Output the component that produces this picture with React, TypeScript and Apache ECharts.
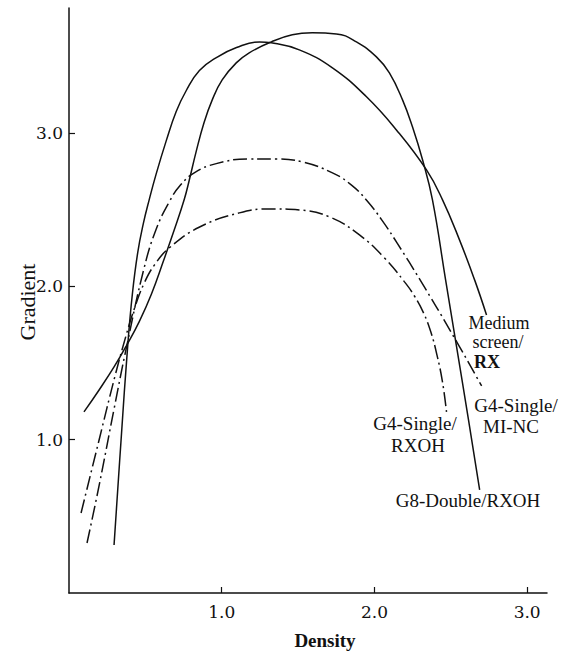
import React, { useEffect, useRef } from "react";
import * as echarts from "echarts";

const xTicks = [1, 2, 3];
const yTicks = [1, 2, 3];

// Solid curve ending near the "Medium screen/RX" label
const mediumScreenRX = [
  [0.295, 0.313], [0.341, 0.998], [0.385, 1.62], [0.415, 1.95], [0.45, 2.22],
  [0.487, 2.41], [0.525, 2.564], [0.57, 2.73], [0.637, 2.95], [0.702, 3.14],
  [0.768, 3.277], [0.854, 3.407], [0.965, 3.492], [1.097, 3.557], [1.248, 3.594],
  [1.325, 3.588], [1.508, 3.542], [1.725, 3.425], [1.948, 3.236], [2.144, 3.02],
  [2.341, 2.759], [2.446, 2.564], [2.557, 2.303], [2.656, 2.042], [2.734, 1.813],
];

// Solid curve ending near the "G8-Double/RXOH" label
const g8DoubleRXOH = [
  [0.098, 1.181], [0.197, 1.324], [0.295, 1.474], [0.38, 1.62], [0.46, 1.77],
  [0.54, 1.95], [0.62, 2.17], [0.69, 2.37], [0.754, 2.564], [0.787, 2.69],
  [0.833, 2.88], [0.885, 3.07], [0.938, 3.216], [1.003, 3.346], [1.095, 3.457],
  [1.18, 3.523], [1.325, 3.594], [1.462, 3.64], [1.593, 3.653], [1.751, 3.646],
  [1.882, 3.594], [2.013, 3.496], [2.098, 3.392], [2.184, 3.216], [2.249, 3.04],
  [2.315, 2.825], [2.38, 2.564], [2.466, 2.042], [2.538, 1.605], [2.616, 1.129],
  [2.689, 0.672],
];

// Dash-dot curve ending near "G4-Single/MI-NC"
const g4SingleMINC = [
  [0.118, 0.326], [0.197, 0.7], [0.295, 1.2], [0.38, 1.62], [0.492, 2.12],
  [0.57, 2.37], [0.656, 2.55], [0.73, 2.66], [0.82, 2.74], [0.964, 2.8],
  [1.18, 2.831], [1.357, 2.831], [1.528, 2.811], [1.725, 2.74], [1.85, 2.66],
  [1.95, 2.56], [2.05, 2.43], [2.15, 2.28], [2.3, 2.04], [2.5, 1.705],
  [2.702, 1.35],
];

// Dash-dot curve ending near "G4-Single/RXOH"
const g4SingleRXOH = [
  [0.079, 0.522], [0.197, 0.998], [0.3, 1.41], [0.374, 1.68], [0.43, 1.86],
  [0.492, 2.02], [0.56, 2.14], [0.656, 2.25], [0.852, 2.385], [1.115, 2.479],
  [1.311, 2.505], [1.508, 2.498], [1.705, 2.453], [1.902, 2.335], [2.066, 2.185],
  [2.197, 2.029], [2.26, 1.94], [2.32, 1.83], [2.37, 1.7], [2.41, 1.55],
  [2.445, 1.38], [2.472, 1.181],
];

const INK = "#111";
const SERIF = "'Liberation Serif', 'Times New Roman', serif";
const DIGITS = "'DejaVu Serif', serif";

function label(text: string, x: number, y: number, size = 20, bold = false) {
  return {
    type: "text",
    x,
    y,
    silent: true,
    style: {
      text,
      fill: INK,
      font: `${bold ? "bold " : ""}${size}px ${SERIF}`,
      textAlign: "center",
      textVerticalAlign: "middle",
      align: "center",
      verticalAlign: "middle",
    },
  };
}

export default function App() {
  const ref = useRef<HTMLDivElement>(null);

  useEffect(() => {
    if (!ref.current) return;
    const chart = echarts.init(ref.current, null, { renderer: "svg" });
    const solid = (name: string, data: number[][]) => ({
      name,
      type: "line",
      data,
      showSymbol: false,
      smooth: 0.45,
      silent: true,
      lineStyle: { color: INK, width: 1.5, type: "solid" },
    });
    const dashDot = (name: string, data: number[][]) => ({
      name,
      type: "line",
      data,
      showSymbol: false,
      smooth: 0.45,
      silent: true,
      lineStyle: { color: INK, width: 1.5, type: [14, 4, 2, 4] },
    });

    chart.setOption({
      animation: false,
      backgroundColor: "#ffffff",
      grid: { left: 69, top: 8, width: 478, height: 585 },
      xAxis: {
        type: "value",
        min: 0,
        max: 3.13,
        axisLine: { show: true, lineStyle: { color: INK, width: 1.5 } },
        axisTick: { show: true, inside: true, length: 6, customValues: xTicks, lineStyle: { color: INK, width: 1.2 } },
        axisLabel: {
          customValues: xTicks,
          formatter: (v: number) => v.toFixed(1),
          margin: 10,
          color: INK,
          fontFamily: DIGITS,
          fontSize: 17,
        },
        splitLine: { show: false },
      },
      yAxis: {
        type: "value",
        min: 0,
        max: 3.815,
        axisLine: { show: true, lineStyle: { color: INK, width: 1.5 } },
        axisTick: { show: true, inside: true, length: 6, customValues: yTicks, lineStyle: { color: INK, width: 1.2 } },
        axisLabel: {
          customValues: yTicks,
          formatter: (v: number) => v.toFixed(1),
          margin: 6,
          color: INK,
          fontFamily: DIGITS,
          fontSize: 17,
        },
        splitLine: { show: false },
      },
      series: [
        solid("Medium screen/RX", mediumScreenRX),
        solid("G8-Double/RXOH", g8DoubleRXOH),
        dashDot("G4-Single/MI-NC", g4SingleMINC),
        dashDot("G4-Single/RXOH", g4SingleRXOH),
      ],
      graphic: [
        label("Medium", 499, 323, 18),
        label("screen/", 498, 342, 18),
        label("RX", 487, 362, 18, true),
        label("G4-Single/", 516, 405, 19),
        label("MI-NC", 511, 426, 19),
        label("G4-Single/", 415, 423, 19),
        label("RXOH", 418, 445, 19),
        label("G8-Double/RXOH", 468, 500, 19),
        label("Density", 325, 640, 19, true),
        {
          type: "text",
          x: 27,
          y: 302,
          rotation: Math.PI / 2,
          silent: true,
          style: {
            text: "Gradient",
            fill: INK,
            font: `22px ${SERIF}`,
            textAlign: "center",
            textVerticalAlign: "middle",
            align: "center",
            verticalAlign: "middle",
          },
        },
      ],
    });
    return () => chart.dispose();
  }, []);

  return (
    <div
      ref={ref}
      style={{ position: "fixed", left: 0, top: 0, width: 565, height: 651, background: "#fff" }}
    />
  );
}
